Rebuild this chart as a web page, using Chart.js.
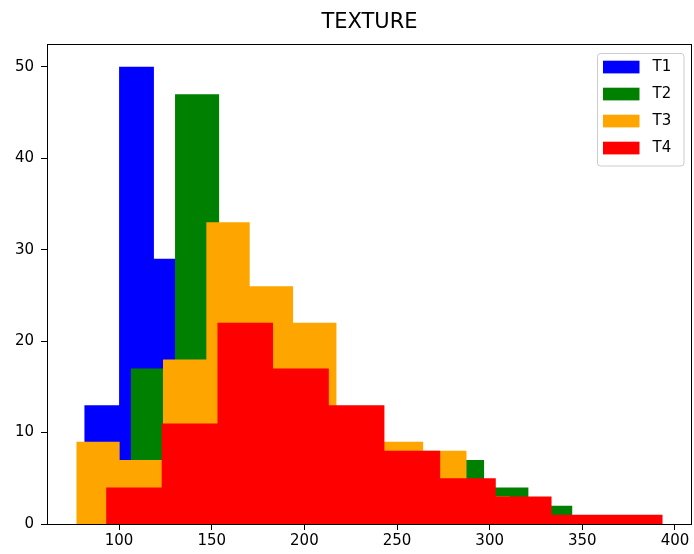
<!DOCTYPE html>
<html>
<head>
<meta charset="utf-8">
<script src="https://cdn.jsdelivr.net/npm/chart.js@4.4.0/dist/chart.umd.min.js"></script>
<style>
  body { margin: 0; background: #fff; }
  #wrap { width: 694px; height: 554px; }
</style>
</head>
<body>
<div id="wrap"><canvas id="chart" width="694" height="554"></canvas></div>
<script>
// histogram data: bin edges and counts per series
const seriesNames = ['T1', 'T2', 'T3', 'T4'];
const seriesColors = ['#0000ff', '#008000', '#ffa500', '#ff0000'];

const t1Edges = [81.2, 100.0, 118.8, 137.6, 156.4, 175.2, 194.0, 212.8, 231.6, 250.4, 269.2];
const t1Counts = [13, 50, 29, 14, 8, 5, 3, 2, 1, 1];
const t2Edges = [106.3, 130.2, 154.0, 177.8, 201.7, 225.5, 249.4, 273.2, 297.0, 320.9, 344.7];
const t2Counts = [17, 47, 22, 14, 11, 8, 6, 7, 4, 2];
const t3Edges = [76.9, 100.3, 123.7, 147.1, 170.5, 193.9, 217.3, 240.7, 264.1, 287.5, 310.9];
const t3Counts = [9, 7, 18, 33, 26, 22, 12, 9, 8, 3];
const t4Edges = [93.0, 123.0, 153.1, 183.1, 213.2, 243.2, 273.3, 303.3, 333.4, 363.4, 393.4];
const t4Counts = [4, 11, 22, 17, 13, 8, 5, 3, 1, 1];

const xTicks = [100, 150, 200, 250, 300, 350, 400];
const yTicks = [0, 10, 20, 30, 40, 50];

const allEdges = [t1Edges, t2Edges, t3Edges, t4Edges];
const allCounts = [t1Counts, t2Counts, t3Counts, t4Counts];

// one step point per bin edge, last edge drops to 0
function stepPoints(edges, counts) {
    return edges.map((e, i) => ({ x: e, y: i < counts.length ? counts[i] : 0 }));
}

const datasets = seriesNames.map((name, i) => ({
    label: name,
    data: stepPoints(allEdges[i], allCounts[i]),
    backgroundColor: seriesColors[i],
    borderColor: 'rgba(0,0,0,0)',
    borderWidth: 0,
    pointRadius: 0,
    stepped: true,
    fill: 'origin',
    order: seriesNames.length - i   // later series drawn on top
}));

const FONT = 'DejaVu Sans';

// box around the axes, like matplotlib spines
const spines = {
    id: 'spines',
    afterDatasetsDraw(chart) {
        const a = chart.chartArea;
        const ctx = chart.ctx;
        ctx.save();
        ctx.strokeStyle = '#000';
        ctx.lineWidth = 1;
        ctx.strokeRect(Math.round(a.left) + 0.5, Math.round(a.top) + 0.5,
            Math.round(a.right - a.left) - 1, Math.round(a.bottom - a.top));
        ctx.restore();
    }
};

// legend inside the axes, upper right
const boxLegend = {
    id: 'boxLegend',
    afterDraw(chart) {
        const ctx = chart.ctx;
        const x = 597.5, y = 53.5, w = 86.5, h = 112.5;
        ctx.save();
        ctx.beginPath();
        ctx.roundRect(x, y, w, h, 3);
        ctx.fillStyle = 'rgba(255,255,255,0.8)';
        ctx.fill();
        ctx.strokeStyle = '#cccccc';
        ctx.lineWidth = 1;
        ctx.stroke();
        ctx.font = '15px "' + FONT + '"';
        ctx.textBaseline = 'middle';
        chart.data.datasets.forEach((ds, i) => {
            const ry = 60.7 + i * 27;
            ctx.fillStyle = ds.backgroundColor;
            ctx.fillRect(603, ry, 36.5, 12.7);
            ctx.fillStyle = '#000';
            ctx.fillText(ds.label, 652.5, ry + 6.8);
        });
        ctx.restore();
    }
};

new Chart(document.getElementById('chart'), {
    type: 'line',
    data: { datasets },
    plugins: [spines, boxLegend],
    options: {
        responsive: false,
        animation: false,
        layout: { padding: { right: 2, top: 0, left: 0, bottom: 0 } },
        plugins: {
            legend: { display: false },
            tooltip: { enabled: false },
            title: {
                display: true,
                text: 'TEXTURE',
                fullSize: false,
                color: '#000',
                font: { family: FONT, size: 21, weight: 'normal' },
                padding: { top: 10, bottom: 8.8 }
            }
        },
        scales: {
            x: {
                type: 'linear',
                min: 61.1,
                max: 409.2,
                afterFit(scale) { scale.height = 30; },
                afterBuildTicks(scale) { scale.ticks = xTicks.map(v => ({ value: v })); },
                grid: { display: true, drawOnChartArea: false, drawTicks: true, tickLength: 6, color: '#000' },
                border: { display: false },
                ticks: { color: '#000', padding: 2, maxRotation: 0, font: { family: FONT, size: 15 } }
            },
            y: {
                type: 'linear',
                min: 0,
                max: 52.5,
                afterFit(scale) { scale.width = 47; },
                afterBuildTicks(scale) { scale.ticks = yTicks.map(v => ({ value: v })); },
                grid: { display: true, drawOnChartArea: false, drawTicks: true, tickLength: 6, color: '#000' },
                border: { display: false },
                ticks: { color: '#000', padding: 7, font: { family: FONT, size: 15 } }
            }
        }
    }
});
</script>
</body>
</html>
